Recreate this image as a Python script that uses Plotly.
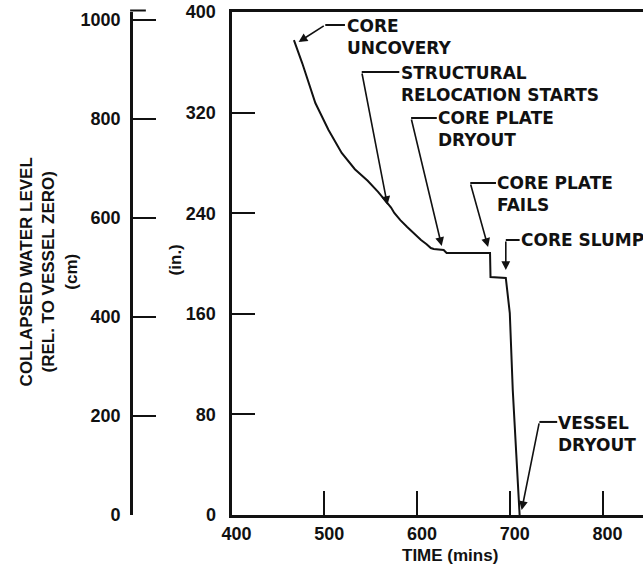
import plotly.graph_objects as go

# ---- data ----
time_min = [467.3, 476.3, 490.4, 504.6, 518.8, 533.0, 546.8, 558.0, 568.1, 572.0,
            575.5, 582.0, 589.4, 597.0, 604.3, 610.0, 614.9, 618.0, 624.0, 628.7,
            631.9, 678.7, 679.2, 695.7, 700.0, 703.2, 710.3, 710.6]
level_in = [377.7, 359.2, 327.6, 306.2, 287.9, 275.0, 265.8, 257.0, 248.1, 244.5,
            240.2, 234.5, 229.0, 223.5, 218.7, 215.5, 212.3, 211.5, 211.0, 210.7,
            208.3, 208.3, 189.3, 188.5, 160.6, 99.4, 4.0, 0.0]

in_ticks = [0, 80, 160, 240, 320, 400]
cm_ticks = [0, 200, 400, 600, 800, 1000]
time_ticks = [400, 500, 600, 700, 800]

events = ["CORE<br>UNCOVERY", "STRUCTURAL<br>RELOCATION STARTS", "CORE PLATE<br>DRYOUT",
          "CORE PLATE<br>FAILS", "CORE SLUMP", "VESSEL<br>DRYOUT"]
event_tip_t = [472.3, 568.1, 626.6, 676.6, 695.7, 712.8]
event_tip_in = [376.2, 246.5, 213.9, 213.1, 194.8, 4.0]

# callout geometry (layout only)
corner_t = [501.1, 540.4, 593.6, 657.4, 695.7, 731.9]
corner_in = [389.7, 352.3, 315.7, 264.0, 218.7, 74.0]
hend_t = [522.3, 580.9, 621.3, 685.1, 710.6, 751.1]
text_t = [522.5, 581.0, 620.4, 684.2, 709.8, 750.2]
text_in = [380.5, 343.1, 307.0, 255.3, 218.7, 64.8]

W, H = 643, 569
INK = "#111111"

fig = go.Figure()
fig.add_trace(go.Scatter(x=time_min, y=level_in, mode="lines",
                         line=dict(color=INK, width=2), showlegend=False,
                         hoverinfo="skip"))
# invisible trace for cm axis
fig.add_trace(go.Scatter(x=[None], y=[None], yaxis="y2", showlegend=False))

tickfont = dict(family="Liberation Sans, Arial", size=18, color=INK, weight="bold")

fig.update_layout(
    width=W, height=H,
    margin=dict(l=0, r=0, t=12, b=54),
    paper_bgcolor="white", plot_bgcolor="white",
    font=dict(family="Liberation Sans, Arial", size=17, color=INK, weight="bold"),
    xaxis=dict(domain=[225 / W, 1], range=[400, 843.6], tickvals=time_ticks,
               ticks="inside", ticklen=24, tickwidth=2, tickcolor=INK,
               showline=True, linewidth=3, linecolor=INK, mirror=True,
               showgrid=False, zeroline=False, tickfont=tickfont,
               ticklabelshift=5),
    yaxis=dict(range=[0, 400], tickvals=in_ticks, ticks="inside", ticklen=23,
               tickwidth=2, tickcolor=INK, showline=True, linewidth=3,
               linecolor=INK, showgrid=False, zeroline=False, tickfont=tickfont,
               ticklabelstandoff=9),
    yaxis2=dict(range=[0, 1016], tickvals=cm_ticks, ticks="inside", ticklen=23,
                tickwidth=2, tickcolor=INK, showline=True, linewidth=3,
                linecolor=INK, showgrid=False, zeroline=False, tickfont=tickfont,
                overlaying="y", anchor="free", position=123 / W, side="left",
                ticklabelstandoff=6),
)

shapes = []
annotations = []
for i, lab in enumerate(events):
    annotations.append(dict(x=event_tip_t[i], y=event_tip_in[i], xref="x", yref="y",
                            ax=corner_t[i], ay=corner_in[i], axref="x", ayref="y",
                            text="", showarrow=True, arrowhead=2, arrowsize=1.1,
                            arrowwidth=1.6, arrowcolor=INK, standoff=0))
    shapes.append(dict(type="line", xref="x", yref="y", x0=corner_t[i], x1=hend_t[i],
                       y0=corner_in[i], y1=corner_in[i],
                       line=dict(color=INK, width=2)))
    annotations.append(dict(x=text_t[i], y=text_in[i], xref="x", yref="y",
                            text=lab, showarrow=False, xanchor="left",
                            yanchor="middle", align="left",
                            font=dict(family="DejaVu Sans", size=17, color=INK,
                                      weight="bold")))

# cap at top of cm axis
shapes.append(dict(type="line", xref="paper", yref="paper", x0=122 / W, x1=138 / W,
                   y0=1.003, y1=1.003, line=dict(color=INK, width=2)))

annotations.append(dict(x=40 / W, y=(515 - 272) / 503, xref="paper", yref="paper",
                        text="COLLAPSED WATER LEVEL<br>(REL. TO VESSEL ZERO)<br>(cm)",
                        textangle=-90, showarrow=False, xanchor="center",
                        yanchor="middle", align="center",
                        font=dict(family="Liberation Sans, Arial", size=17,
                                  color=INK, weight="bold")))
annotations.append(dict(x=168 / W, y=(515 - 260) / 503, xref="paper", yref="paper",
                        text="(in.)", textangle=-90, showarrow=False,
                        xanchor="center", yanchor="middle",
                        font=dict(family="Liberation Sans, Arial", size=17,
                                  color=INK, weight="bold")))
annotations.append(dict(x=447 / W, y=(515 - 555) / 503, xref="paper", yref="paper",
                        text="TIME (mins)", showarrow=False, xanchor="center",
                        yanchor="middle",
                        font=dict(family="Liberation Sans, Arial", size=17,
                                  color=INK, weight="bold")))

fig.update_layout(shapes=shapes, annotations=annotations)
fig.write_html("out.html")
